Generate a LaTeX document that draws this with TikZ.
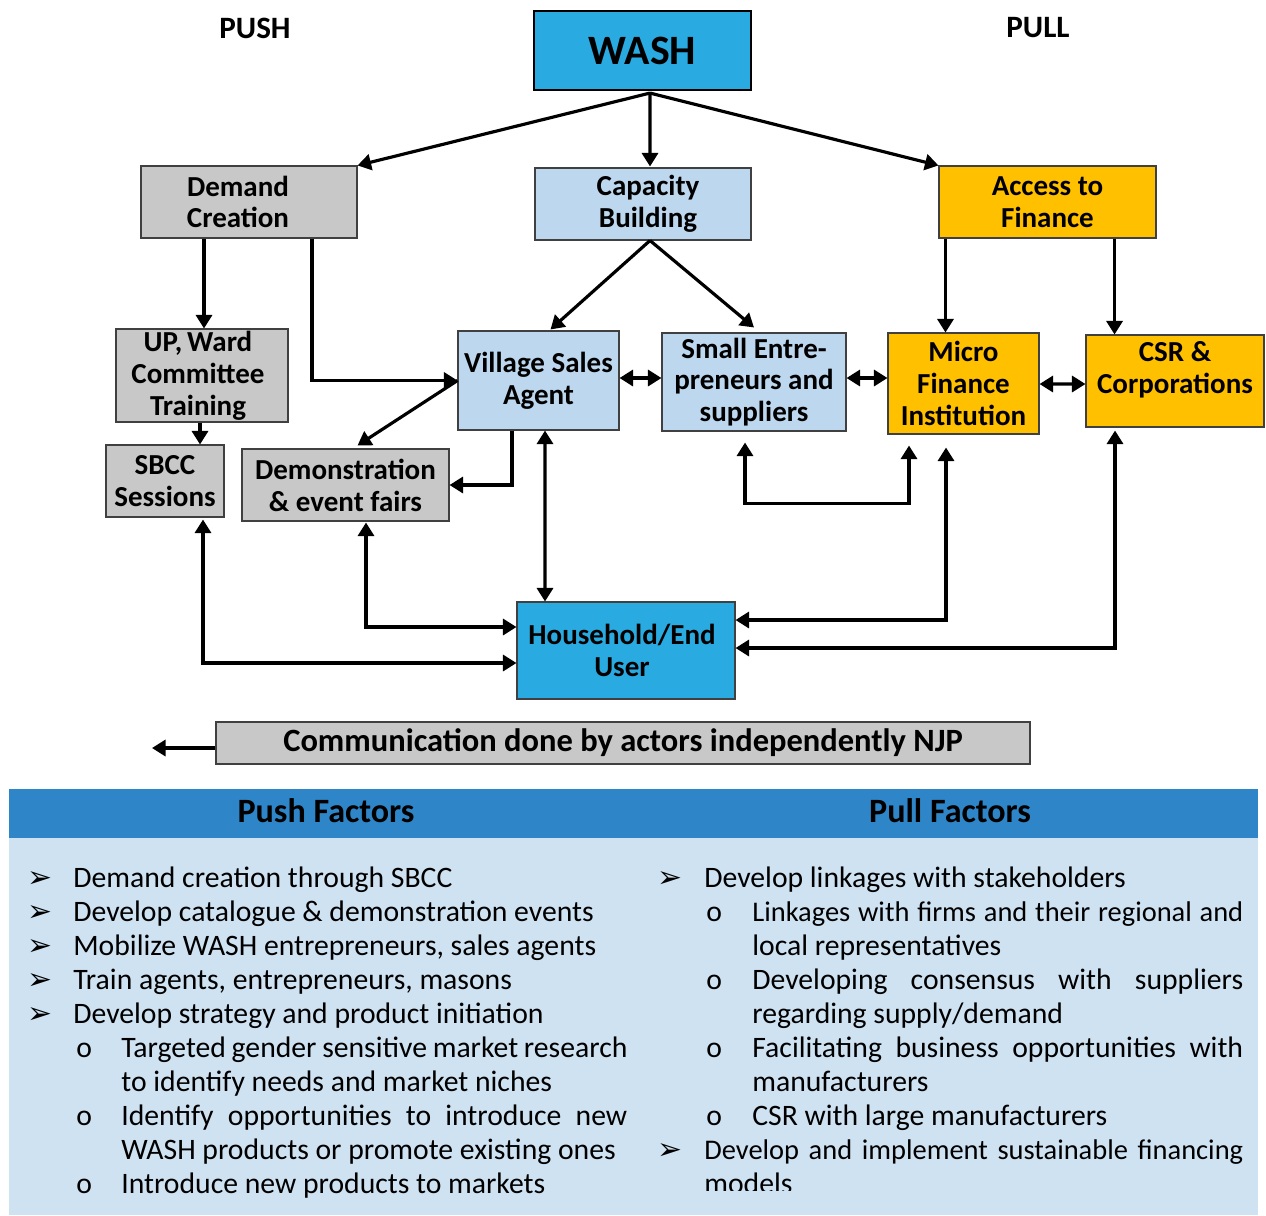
\documentclass[tikz,border=0pt]{standalone}
\usepackage{fontspec}
\setmainfont{Carlito}
\newfontfamily\dejavu{DejaVu Sans}
\usetikzlibrary{arrows.meta,calc}
\definecolor{washblue}{RGB}{41,171,226}
\definecolor{lightblue}{RGB}{189,215,238}
\definecolor{boxgray}{RGB}{200,200,200}
\definecolor{finorange}{RGB}{255,192,0}
\definecolor{hdrblue}{RGB}{46,134,200}
\definecolor{bodyblue}{RGB}{207,226,242}
\newcommand{\lblf}{\bfseries\fontsize{16.5}{18.1}\selectfont}
\newcommand{\bodyf}{\fontsize{16.9}{19}\selectfont}
\newcommand{\tightf}{\fontsize{16.2}{19}\selectfont}
\newcommand{\arrowb}{\dejavu\fontsize{17}{19}\selectfont ➢}
\newcommand{\jline}[2]{\makebox[#1][s]{\spaceskip=0.22em plus 1em minus 0.06em\relax #2}}
\begin{document}
\begin{tikzpicture}[x=0.02cm,y=-0.02cm,
  box/.style={draw=black!75, line width=0.6pt, inner sep=0pt, align=center, font=\lblf},
  sz/.style 2 args={minimum width=#1*0.02cm, minimum height=#2*0.02cm},
  arr/.style={line width=1.8pt, -{Triangle[length=0.27cm,width=0.32cm]}},
  darr/.style={line width=1.8pt, {Triangle[length=0.27cm,width=0.32cm]}-{Triangle[length=0.27cm,width=0.32cm]}},
  li/.style={anchor=base west, inner sep=0pt, font=\bodyf},
  bul/.style={anchor=base west, inner sep=0pt},
  ttl/.style={inner sep=0pt, font=\bfseries\fontsize{17.7}{19}\selectfont},
  hdr/.style={inner sep=0pt, font=\bfseries\fontsize{19.4}{21}\selectfont}]
\useasboundingbox (0,0) rectangle (1266,1215);

% titles
\node[ttl] (push) at (255,28) {PUSH};
\node[ttl] (pull) at (1038,28) {PULL};

% boxes
\node[box, sz={217}{79}, fill=washblue, draw=black, line width=1.2pt, font=\bfseries\fontsize{23.8}{25}\selectfont] (wash) at (642.5,50.5) {WASH};
\node[box, sz={216}{72}, fill=boxgray, label={[font=\lblf, align=center, xshift=-0.22cm]center:Demand\\Creation}] (dc) at (249,202) {};
\node[box, sz={216}{72}, fill=lightblue, label={[font=\lblf, align=center, xshift=0.1cm]center:Capacity\\Building}] (cb) at (643,204) {};
\node[box, sz={217}{72}, fill=finorange] (af) at (1047.5,202) {Access to\\Finance};
\node[box, sz={172}{93}, fill=boxgray, label={[font=\lblf, align=center, xshift=-0.08cm]center:UP,\,Ward\\Committee\\Training}] (up) at (202,375.5) {};
\node[box, sz={118}{72}, fill=boxgray] (sbcc) at (165,481) {SBCC\\Sessions};
\node[box, sz={207}{72}, fill=boxgray] (demo) at (345.5,485) {Demonstration\\\& event fairs};
\node[box, sz={161}{99}, fill=lightblue] (vsa) at (538.5,380.5) {Village Sales\\Agent};
\node[box, sz={184}{98}, fill=lightblue] (se) at (754,382) {Small Entre-\\preneurs and\\suppliers};
\node[box, sz={151}{101}, fill=finorange] (mfi) at (963.5,383.5) {Micro\\Finance\\Institution};
\node[box, sz={178}{92}, fill=finorange, label={[font=\lblf, align=center, yshift=0.22cm]center:CSR \&\\Corporations}] (csr) at (1175,381) {};
\node[box, sz={218}{97}, fill=washblue, label={[font=\lblf, align=center, xshift=-0.08cm]center:Household/End\\User}] (hh) at (626,650.5) {};
\node[box, sz={814}{42}, fill=boxgray, font=\bfseries\fontsize{18.5}{20}\selectfont] (comm) at (623,743) {Communication done by actors independently NJP};

% connectors
\draw[arr] ($(wash.south)+(7.5,2)$) -- (dc.north east);
\draw[arr] ($(wash.south)+(7.5,2)$) -- ($(cb.north)+(7,-1)$);
\draw[arr] ($(wash.south)+(7.5,2)$) -- (af.north west);
\draw[arr] ($(dc.south)+(-45,0)$) coordinate (c1) -- (c1 |- up.north);
\draw[arr] ($(dc.south)+(63,0)$) |- (vsa.west);
\draw[arr] ($(up.south)+(-2,0)$) coordinate (c2) -- (c2 |- sbcc.north);
\draw[arr] (vsa.west) -- ($(demo.north)+(12,-3)$);
\draw[arr] ($(vsa.south)+(-26.5,0)$) |- (demo.east);
\draw[arr] ($(cb.south)+(7,0)$) -- ($(vsa.north)+(12,-1)$);
\draw[arr] ($(cb.south)+(7,0)$) -- ($(se.north)+(0,-5)$);
\draw[darr] ($(vsa.east)+(0,-2.5)$) -- ($(se.west)+(0,-4)$);
\draw[darr] ($(se.east)+(0,-4)$) -- ($(mfi.west)+(0,-5.5)$);
\draw[darr] ($(mfi.east)+(0,0.5)$) -- ($(csr.west)+(0,3)$);
\draw[arr] ($(af.south west)+(7,0)$) coordinate (c3) -- (c3 |- mfi.north);
\draw[arr] ($(af.south east)+(-42,0)$) coordinate (c4) -- (c4 |- csr.north);
\draw[darr] ($(se.south)+(-9,11)$) -- ++(0,61) -| ($(mfi.south)+(-54.5,11)$);
\draw[darr] ($(mfi.south)+(-17.5,13)$) |- ($(hh.east)+(0,-30.5)$);
\draw[darr] ($(csr.south)+(-60,3)$) |- ($(hh.east)+(0,-2.5)$);
\draw[darr] ($(vsa.south)+(6.5,0)$) -- ($(hh.north)+(-81,0)$);
\draw[darr] ($(demo.south)+(20.5,1)$) |- ($(hh.west)+(0,-23.5)$);
\draw[darr] ($(sbcc.south)+(38,2)$) |- ($(hh.west)+(0,12.5)$);
\coordinate (commend) at (152,748);
\draw[arr] ($(comm.west)+(0,5)$) -- (commend);

% factors table
\fill[hdrblue] (9,789) rectangle (1258,838);
\fill[bodyblue] (9,838) rectangle (1258,1215);
\node[hdr] (pushf) at (326,811) {Push Factors};
\node[hdr] (pullf) at (950,811) {Pull Factors};

% left column
\foreach \yy in {887,921,955,989,1023} \node[bul] at (27,\yy) {\arrowb};
\foreach \yy in {1057,1125,1193} \node[li] at (76,\yy) {o};
\node[li] at (73,887) {Demand creation through SBCC};
\node[li] at (73,921) {Develop catalogue \& demonstration events};
\node[li] at (73,955) {Mobilize WASH entrepreneurs, sales agents};
\node[li] at (73,989) {Train agents, entrepreneurs, masons};
\node[li] at (73,1023) {Develop strategy and product initiation};
\node[li] at (121,1057) {\jline{10.12cm}{Targeted gender sensitive market research}};
\node[li] at (121,1091) {to identify needs and market niches};
\node[li] at (121,1125) {\jline{10.12cm}{Identify opportunities to introduce new}};
\node[li] at (121,1159) {WASH products or promote existing ones};
\node[li] at (121,1193) {Introduce new products to markets};

% right column
\foreach \yy in {887,1159} \node[bul] at (657,\yy) {\arrowb};
\foreach \yy in {921,989,1057,1125} \node[li] at (706,\yy) {o};
\node[li] at (704,887) {Develop linkages with stakeholders};
\node[li, font=\tightf] at (752,921) {\jline{9.82cm}{Linkages with firms and their regional and}};
\node[li] at (752,955) {local representatives};
\node[li] at (752,989) {\jline{9.82cm}{Developing consensus with suppliers}};
\node[li] at (752,1023) {regarding supply/demand};
\node[li] at (752,1057) {\jline{9.82cm}{Facilitating business opportunities with}};
\node[li] at (752,1091) {manufacturers};
\node[li] at (752,1125) {CSR with large manufacturers};
\node[li, font=\tightf] at (704,1159) {\jline{10.78cm}{Develop and implement sustainable financing}};
\begin{scope}
\clip (700,1160) rectangle (900,1190);
\node[li] at (704,1193) {models};
\end{scope}
\end{tikzpicture}
\end{document}
